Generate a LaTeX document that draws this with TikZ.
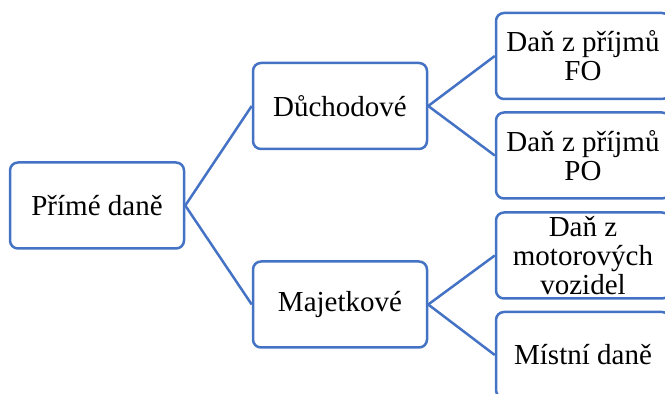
\documentclass[tikz,border=0pt]{standalone}
\usepackage{fontspec}
\setmainfont{Liberation Serif}
\usetikzlibrary{positioning}
\definecolor{boxblue}{RGB}{68,114,196}

\begin{document}
\begin{tikzpicture}[x=1pt,y=1pt,line join=round,
    taxbox/.style={draw=boxblue,line width=2.5pt,rounded corners=8pt,fill=white,
        minimum width=174pt,minimum height=86pt,align=center,inner sep=2pt,
        font=\fontsize{29}{29}\selectfont},
    branch/.style={draw=boxblue,line width=2.5pt}]
    \useasboundingbox (0,0) rectangle (665,394);
    \clip (0,0) rectangle (665,394);
    \node[taxbox] (prime) at (97,188.5) {Přímé daně};
    \node[taxbox] (duch) at (340,288) {Důchodové};
    \node[taxbox] (maj) at (340,89.5) {Majetkové};
    \node[taxbox] (fo) at (583,338) {Daň z příjmů\\FO};
    \node[taxbox] (po) at (583,238.5) {Daň z příjmů\\PO};
    \node[taxbox] (motor) at (583,138.5) {Daň z\\motorových\\vozidel};
    \node[taxbox] (mistni) at (583,39) {Místní daně};
    \draw[branch] (prime.east) -- (duch.west);
    \draw[branch] (prime.east) -- (maj.west);
    \draw[branch] (duch.east) -- (fo.west);
    \draw[branch] (duch.east) -- (po.west);
    \draw[branch] (maj.east) -- (motor.west);
    \draw[branch] (maj.east) -- (mistni.west);
\end{tikzpicture}
\end{document}
